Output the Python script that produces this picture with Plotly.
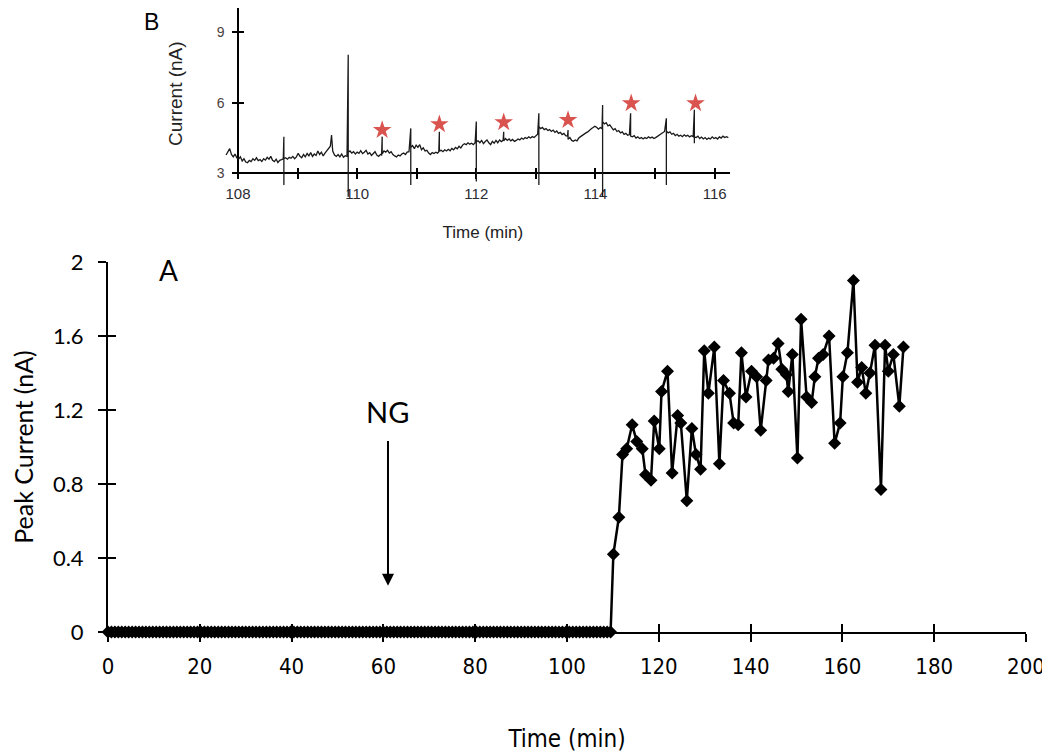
import plotly.graph_objects as go

# ---------------- Panel A data ----------------
baseline_times = [
    0, 0.75, 1.5, 2.25, 3, 3.75, 4.5, 5.25, 6, 6.75,
    7.5, 8.25, 9, 9.75, 10.5, 11.25, 12, 12.75, 13.5, 14.25,
    15, 15.75, 16.5, 17.25, 18, 18.75, 19.5, 20.25, 21, 21.75,
    22.5, 23.25, 24, 24.75, 25.5, 26.25, 27, 27.75, 28.5, 29.25,
    30, 30.75, 31.5, 32.25, 33, 33.75, 34.5, 35.25, 36, 36.75,
    37.5, 38.25, 39, 39.75, 40.5, 41.25, 42, 42.75, 43.5, 44.25,
    45, 45.75, 46.5, 47.25, 48, 48.75, 49.5, 50.25, 51, 51.75,
    52.5, 53.25, 54, 54.75, 55.5, 56.25, 57, 57.75, 58.5, 59.25,
    60, 60.75, 61.5, 62.25, 63, 63.75, 64.5, 65.25, 66, 66.75,
    67.5, 68.25, 69, 69.75, 70.5, 71.25, 72, 72.75, 73.5, 74.25,
    75, 75.75, 76.5, 77.25, 78, 78.75, 79.5, 80.25, 81, 81.75,
    82.5, 83.25, 84, 84.75, 85.5, 86.25, 87, 87.75, 88.5, 89.25,
    90, 90.75, 91.5, 92.25, 93, 93.75, 94.5, 95.25, 96, 96.75,
    97.5, 98.25, 99, 99.75, 100.5, 101.25, 102, 102.75, 103.5, 104.25,
    105, 105.75, 106.5, 107.25, 108, 108.75, 109.5,
]
baseline_current = [
    0, 0, 0, 0, 0, 0, 0, 0, 0, 0, 0, 0, 0, 0, 0, 0, 0, 0, 0, 0, 0,
    0, 0, 0, 0, 0, 0, 0, 0, 0, 0, 0, 0, 0, 0, 0, 0, 0, 0, 0, 0, 0,
    0, 0, 0, 0, 0, 0, 0, 0, 0, 0, 0, 0, 0, 0, 0, 0, 0, 0, 0, 0, 0,
    0, 0, 0, 0, 0, 0, 0, 0, 0, 0, 0, 0, 0, 0, 0, 0, 0, 0, 0, 0, 0,
    0, 0, 0, 0, 0, 0, 0, 0, 0, 0, 0, 0, 0, 0, 0, 0, 0, 0, 0, 0, 0,
    0, 0, 0, 0, 0, 0, 0, 0, 0, 0, 0, 0, 0, 0, 0, 0, 0, 0, 0, 0, 0,
    0, 0, 0, 0, 0, 0, 0, 0, 0, 0, 0, 0, 0, 0, 0, 0, 0, 0, 0, 0, 0,
]

response_times = [
    110.1, 111.3, 112.1, 113.0, 114.2, 115.2, 116.4, 117.1, 118.3, 119.0,
    120.1, 120.6, 121.9, 122.9, 124.1, 124.8, 126.1, 127.2, 128.1, 129.1,
    129.9, 130.8, 132.1, 133.2, 134.1, 135.4, 136.3, 137.3, 138.0, 139.0,
    140.2, 141.3, 142.2, 143.4, 143.9, 145.0, 146.0, 146.8, 147.8, 148.2,
    149.1, 150.2, 151.0, 152.2, 153.3, 154.0, 154.8, 155.8, 157.1, 158.3,
    159.5, 160.1, 161.1, 162.4, 163.3, 164.2, 165.1, 166.0, 167.1, 168.4,
    169.3, 170.0, 171.1, 172.4, 173.3,
]
response_current = [
    0.42, 0.62, 0.96, 0.99, 1.12, 1.03, 0.99, 0.85, 0.82, 1.14,
    0.99, 1.30, 1.41, 0.86, 1.17, 1.13, 0.71, 1.10, 0.96, 0.88,
    1.52, 1.29, 1.54, 0.91, 1.36, 1.29, 1.13, 1.12, 1.51, 1.27,
    1.41, 1.38, 1.09, 1.36, 1.47, 1.48, 1.56, 1.42, 1.39, 1.30,
    1.50, 0.94, 1.69, 1.27, 1.24, 1.38, 1.48, 1.50, 1.60, 1.02,
    1.13, 1.38, 1.51, 1.90, 1.35, 1.43, 1.29, 1.40, 1.55, 0.77,
    1.55, 1.41, 1.50, 1.22, 1.54,
]

main_xticks = [0, 20, 40, 60, 80, 100, 120, 140, 160, 180, 200]
main_yticks = [0, 0.4, 0.8, 1.2, 1.6, 2]
main_yticktext = ["0", "0.4", "0.8", "1.2", "1.6", "2"]

ng_time = 61.0
ng_text_level = 1.19
ng_arrow_top = 1.04
ng_arrow_tip = 0.25

# ---------------- Panel B (inset) data ----------------
inset_time = [
    107.80, 107.83, 107.86, 107.89, 107.92, 107.95, 107.98, 108.01, 108.04, 108.07,
    108.10, 108.13, 108.16, 108.19, 108.22, 108.25, 108.28, 108.31, 108.34, 108.37,
    108.40, 108.43, 108.46, 108.49, 108.52, 108.55, 108.58, 108.61, 108.64, 108.67,
    108.70, 108.73, 108.76, 108.77, 108.77, 108.77, 108.80, 108.83, 108.86, 108.89,
    108.92, 108.95, 108.98, 109.01, 109.04, 109.07, 109.10, 109.13, 109.16, 109.19,
    109.22, 109.25, 109.28, 109.31, 109.34, 109.37, 109.40, 109.43, 109.46, 109.49,
    109.52, 109.55, 109.57, 109.59, 109.62, 109.65, 109.68, 109.71, 109.74, 109.77,
    109.80, 109.83, 109.85, 109.85, 109.85, 109.88, 109.91, 109.94, 109.97, 110.00,
    110.03, 110.06, 110.09, 110.12, 110.15, 110.18, 110.21, 110.24, 110.27, 110.30,
    110.33, 110.36, 110.39, 110.41, 110.42, 110.42, 110.45, 110.48, 110.51, 110.54,
    110.57, 110.60, 110.63, 110.66, 110.69, 110.72, 110.75, 110.78, 110.81, 110.84,
    110.87, 110.90, 110.90, 110.90, 110.93, 110.96, 110.99, 111.02, 111.05, 111.08,
    111.11, 111.14, 111.17, 111.20, 111.23, 111.26, 111.29, 111.32, 111.35, 111.37,
    111.38, 111.38, 111.41, 111.44, 111.47, 111.50, 111.53, 111.56, 111.59, 111.62,
    111.65, 111.68, 111.71, 111.74, 111.77, 111.80, 111.83, 111.86, 111.89, 111.92,
    111.95, 111.98, 112.00, 112.00, 112.00, 112.03, 112.06, 112.09, 112.12, 112.15,
    112.18, 112.21, 112.24, 112.27, 112.30, 112.33, 112.36, 112.39, 112.42, 112.45,
    112.46, 112.46, 112.49, 112.52, 112.55, 112.58, 112.61, 112.64, 112.67, 112.70,
    112.73, 112.76, 112.79, 112.82, 112.85, 112.88, 112.91, 112.94, 112.97, 113.00,
    113.03, 113.05, 113.05, 113.05, 113.08, 113.11, 113.14, 113.17, 113.20, 113.23,
    113.26, 113.29, 113.32, 113.35, 113.38, 113.41, 113.44, 113.47, 113.50, 113.53,
    113.54, 113.54, 113.57, 113.60, 113.63, 113.66, 113.69, 113.72, 113.75, 113.78,
    113.81, 113.84, 113.87, 113.90, 113.93, 113.96, 113.99, 114.02, 114.05, 114.08,
    114.11, 114.12, 114.12, 114.12, 114.15, 114.18, 114.21, 114.24, 114.27, 114.30,
    114.33, 114.36, 114.39, 114.42, 114.45, 114.48, 114.51, 114.54, 114.57, 114.59,
    114.59, 114.62, 114.65, 114.68, 114.71, 114.74, 114.77, 114.80, 114.83, 114.86,
    114.89, 114.92, 114.95, 114.98, 115.01, 115.04, 115.07, 115.10, 115.13, 115.16,
    115.19, 115.19, 115.19, 115.22, 115.25, 115.28, 115.31, 115.34, 115.37, 115.40,
    115.43, 115.46, 115.49, 115.52, 115.55, 115.58, 115.61, 115.64, 115.66, 115.66,
    115.66, 115.69, 115.72, 115.75, 115.78, 115.81, 115.84, 115.87, 115.90, 115.93,
    115.96, 115.99, 116.02, 116.05, 116.08, 116.11, 116.14, 116.17, 116.20, 116.23,
]
inset_current = [
    3.78, 3.95, 4.05, 3.80, 3.70, 3.82, 3.66, 3.60, 3.70, 3.52,
    3.62, 3.48, 3.45, 3.55, 3.50, 3.62, 3.55, 3.66, 3.54, 3.58,
    3.50, 3.62, 3.56, 3.68, 3.60, 3.72, 3.55, 3.50, 3.60, 3.46,
    3.55, 3.58, 3.62, 4.56, 2.50, 3.62, 3.66, 3.60, 3.68, 3.64,
    3.72, 3.62, 3.70, 3.85, 3.72, 3.66, 3.80, 3.70, 3.84, 3.74,
    3.88, 3.72, 3.82, 3.76, 3.95, 3.80, 3.90, 3.74, 3.86, 3.95,
    4.05, 4.15, 4.63, 3.95, 3.78, 3.72, 3.80, 3.70, 3.82, 3.68,
    3.75, 3.72, 8.04, 2.00, 3.90, 3.95, 3.86, 3.92, 3.82, 3.90,
    3.85, 3.96, 3.84, 3.90, 3.98, 3.82, 3.88, 3.76, 3.85, 3.92,
    3.78, 3.72, 3.80, 3.78, 4.56, 3.82, 3.95, 3.90, 3.98, 3.86,
    3.92, 3.80, 3.74, 3.70, 3.78, 3.74, 3.82, 3.86, 3.80, 3.90,
    3.92, 4.91, 2.50, 4.10, 4.18, 4.05, 4.20, 4.10, 4.22, 4.00,
    4.08, 3.95, 3.98, 3.86, 3.80, 3.88, 3.84, 3.90, 3.86, 3.92,
    4.77, 3.95, 3.98, 3.92, 4.00, 3.95, 4.02, 3.96, 4.06, 4.00,
    4.10, 4.04, 4.15, 4.08, 4.20, 4.26, 4.22, 4.30, 4.24, 4.28,
    4.22, 4.30, 5.20, 2.65, 4.35, 4.38, 4.30, 4.40, 4.26, 4.35,
    4.42, 4.30, 4.22, 4.36, 4.28, 4.40, 4.30, 4.42, 4.35, 4.40,
    4.77, 4.38, 4.48, 4.40, 4.46, 4.38, 4.44, 4.36, 4.40, 4.46,
    4.42, 4.50, 4.45, 4.52, 4.48, 4.55, 4.50, 4.56, 4.52, 4.60,
    4.66, 5.55, 2.50, 4.99, 4.90, 4.95, 4.86, 4.90, 4.82, 4.86,
    4.78, 4.84, 4.74, 4.80, 4.70, 4.74, 4.65, 4.70, 4.60, 4.58,
    4.84, 4.45, 4.52, 4.40, 4.36, 4.42, 4.38, 4.50, 4.56, 4.62,
    4.66, 4.72, 4.76, 4.84, 4.90, 4.95, 5.00, 4.96, 4.88, 4.95,
    4.90, 5.91, 2.00, 5.20, 5.10, 5.15, 5.02, 5.06, 4.95, 4.85,
    4.90, 4.78, 4.82, 4.72, 4.76, 4.66, 4.70, 4.62, 4.65, 5.55,
    4.58, 4.55, 4.60, 4.50, 4.55, 4.48, 4.52, 4.46, 4.52, 4.48,
    4.55, 4.50, 4.54, 4.48, 4.52, 4.58, 4.62, 4.68, 4.72, 4.78,
    5.34, 2.50, 4.80, 4.72, 4.76, 4.66, 4.70, 4.60, 4.66, 4.58,
    4.62, 4.56, 4.64, 4.58, 4.62, 4.55, 4.60, 4.56, 5.70, 4.28,
    4.55, 4.52, 4.58, 4.48, 4.54, 4.46, 4.52, 4.44, 4.50, 4.46,
    4.55, 4.48, 4.52, 4.46, 4.55, 4.50, 4.58, 4.52, 4.56, 4.52,
]

star_time = [110.42, 111.38, 112.46, 113.54, 114.60, 115.68]
star_current = [4.84, 5.09, 5.17, 5.27, 5.98, 5.98]

inset_xticks = [108, 109, 110, 111, 112, 113, 114, 115, 116]
inset_xticktext = ["108", "", "110", "", "112", "", "114", "", "116"]
inset_yticks = [3, 6, 9]

# ---------------- figure ----------------
BLACK = "black"
NARROW = "Liberation Sans Narrow, DejaVu Sans Condensed, Arial Narrow, sans-serif"
CALIBRI = "Lato, Open Sans, sans-serif"
ARIAL = "Liberation Sans, Arial, sans-serif"

fig = go.Figure()

fig.add_trace(go.Scatter(
    x=baseline_times + response_times,
    y=baseline_current + response_current,
    mode="lines+markers",
    line=dict(color=BLACK, width=2.5),
    marker=dict(symbol="diamond", size=10, color=BLACK),
    cliponaxis=False,
    xaxis="x", yaxis="y",
    showlegend=False,
))

fig.add_trace(go.Scatter(
    x=inset_time, y=inset_current,
    mode="lines",
    line=dict(color="#1a1a1a", width=1.3),
    xaxis="x4", yaxis="y4",
    showlegend=False,
))

fig.add_trace(go.Scatter(
    x=star_time, y=star_current,
    mode="markers",
    marker=dict(symbol="star", size=14, color="#d9534f"),
    cliponaxis=False,
    xaxis="x2", yaxis="y2",
    showlegend=False,
))

# empty traces so that the overlay tick axes (inward half of the crossing ticks) get drawn
for xa, ya in (("x3", "y"), ("x", "y3"), ("x5", "y2"), ("x2", "y5")):
    fig.add_trace(go.Scatter(x=[], y=[], xaxis=xa, yaxis=ya, mode="markers",
                             showlegend=False, hoverinfo="skip"))

# the page body adds an 8px offset, so the figure is 1042x745
W, H = 1042, 745
ML, MR, MT, MB = 100, 24, 0, 121

main_ydom_top = 0.59295

axis_common = dict(showgrid=False, zeroline=False, automargin=False)

fig.update_layout(
    width=W, height=H,
    margin=dict(l=ML, r=MR, t=MT, b=MB, pad=0),
    paper_bgcolor="white",
    plot_bgcolor="rgba(0,0,0,0)",
    showlegend=False,
    xaxis=dict(
        **axis_common,
        domain=[0, 1], range=[0, 200], anchor="y",
        tickmode="array", tickvals=main_xticks,
        ticks="outside", ticklen=8, tickwidth=2, tickcolor=BLACK,
        showline=True, linecolor=BLACK, linewidth=2,
        tickfont=dict(family=NARROW, size=22, color=BLACK),
        ticklabelstandoff=6,
        title=dict(text="Time (min)", font=dict(family=NARROW, size=24, color=BLACK), standoff=52),
    ),
    xaxis3=dict(
        **axis_common,
        overlaying="x", anchor="y", range=[0, 200],
        tickmode="array", tickvals=main_xticks,
        ticks="inside", ticklen=8, tickwidth=2, tickcolor=BLACK,
        showticklabels=False, showline=False,
    ),
    yaxis=dict(
        **axis_common,
        domain=[0, main_ydom_top], range=[0, 2], anchor="x",
        tickmode="array", tickvals=main_yticks, ticktext=main_yticktext,
        ticks="outside", ticklen=8, tickwidth=2, tickcolor=BLACK,
        showline=True, linecolor=BLACK, linewidth=2,
        tickfont=dict(family=CALIBRI, size=22, color=BLACK),
        ticklabelstandoff=10,
        title=dict(text="Peak Current (nA)", font=dict(family=CALIBRI, size=25, color=BLACK), standoff=19),
    ),
    yaxis3=dict(
        **axis_common,
        overlaying="y", anchor="x", range=[0, 2],
        tickmode="array", tickvals=main_yticks,
        ticks="inside", ticklen=8, tickwidth=2, tickcolor=BLACK,
        showticklabels=False, showline=False,
    ),
    # inset visible axes
    xaxis2=dict(
        **axis_common,
        domain=[0.13965, 0.67702], range=[107.97, 116.25],
        anchor="free", position=0.73510,
        tickmode="array", tickvals=inset_xticks, ticktext=inset_xticktext,
        ticks="outside", ticklen=5, tickwidth=1.5, tickcolor=BLACK,
        showline=True, linecolor=BLACK, linewidth=1.5,
        tickfont=dict(family=ARIAL, size=15, color="#2b2b33"),
        ticklabelstandoff=2,
        title=dict(text="Time (min)", font=dict(family=ARIAL, size=17, color="#222"), standoff=24),
    ),
    xaxis5=dict(
        **axis_common,
        overlaying="x2", anchor="free", position=0.73510, range=[107.97, 116.25],
        tickmode="array", tickvals=inset_xticks,
        ticks="inside", ticklen=5, tickwidth=1.5, tickcolor=BLACK,
        showticklabels=False, showline=False,
    ),
    yaxis2=dict(
        **axis_common,
        domain=[0.72564, 0.99985], range=[2.75, 10.03],
        anchor="free", position=0.14161,
        tickmode="array", tickvals=inset_yticks,
        ticks="outside", ticklen=5, tickwidth=1.5, tickcolor=BLACK,
        showline=True, linecolor=BLACK, linewidth=1.5,
        tickfont=dict(family=ARIAL, size=14, color="#4a4040"),
        ticklabelstandoff=5,
        title=dict(text="Current (nA)", font=dict(family=ARIAL, size=19, color="#222"), standoff=28),
    ),
    yaxis5=dict(
        **axis_common,
        overlaying="y2", anchor="free", position=0.14161, range=[2.75, 10.03],
        tickmode="array", tickvals=inset_yticks,
        ticks="inside", ticklen=5, tickwidth=1.5, tickcolor=BLACK,
        showticklabels=False, showline=False,
    ),
    # inset hidden axes for the trace (same scale, slightly larger extent)
    xaxis4=dict(domain=[0.12734, 0.67702], range=[107.78, 116.25], anchor="y4", visible=False),
    yaxis4=dict(domain=[0.69367, 0.99985], range=[1.9, 10.03], anchor="x4", visible=False),
)

fig.add_annotation(x=ng_time, y=ng_arrow_tip, ax=ng_time, ay=ng_arrow_top,
                   xref="x", yref="y", axref="x", ayref="y",
                   showarrow=True, arrowhead=2, arrowsize=1.2, arrowwidth=2,
                   arrowcolor=BLACK, text="")
fig.add_annotation(x=ng_time, y=ng_text_level, xref="x", yref="y",
                   text="NG", showarrow=False,
                   font=dict(family=CALIBRI, size=29, color=BLACK))
fig.add_annotation(x=13.1, y=1.957, xref="x", yref="y", text="A", showarrow=False,
                   font=dict(family=CALIBRI, size=28, color=BLACK))
fig.add_annotation(x=0.0479, y=1.0, xref="paper", yref="paper", text="B", showarrow=False,
                   xanchor="center", yanchor="top", borderpad=0,
                   font=dict(family=ARIAL, size=23, color=BLACK))

fig.write_html("out.html")
